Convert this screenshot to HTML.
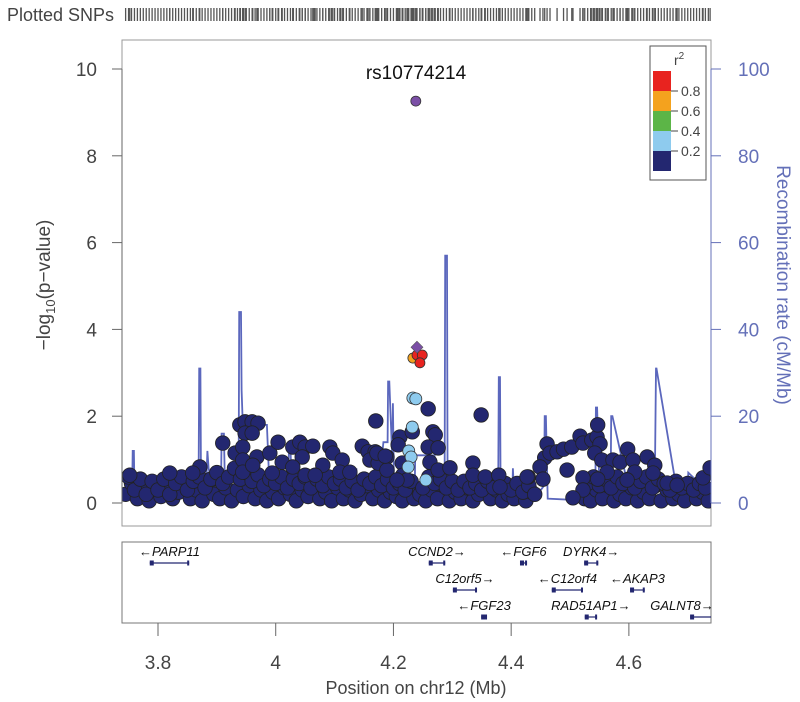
<!DOCTYPE html>
<html><head><meta charset="utf-8"><style>
html,body{margin:0;padding:0;background:#fff;}
svg{display:block;font-family:"Liberation Sans",Arial,sans-serif;}
</style></head><body>
<svg id="chart" width="800" height="702" viewBox="0 0 800 702" xmlns="http://www.w3.org/2000/svg">
<text x="7" y="21" font-size="18" fill="#444">Plotted SNPs</text>
<g id="snpticks"></g>
<rect x="122" y="40" width="589" height="486" fill="none" stroke="#999" stroke-width="1"/>
<g id="recomb"></g>
<g id="points"></g>
<g id="axes"></g>
<text x="416" y="79" font-size="19" text-anchor="middle" fill="#111">rs10774214</text>
<text transform="translate(50,285) rotate(-90)" font-size="19" text-anchor="middle" fill="#444">−log<tspan font-size="13" dy="5">10</tspan><tspan dy="-5">(p−value)</tspan></text>
<text transform="translate(777,285) rotate(90)" font-size="19" text-anchor="middle" fill="#6470b8">Recombination rate (cM/Mb)</text>
<g id="legend">
<rect x="650" y="46" width="56" height="134" fill="#fff" stroke="#555" stroke-width="1"/>
<text x="674" y="65" font-size="14" fill="#444">r<tspan font-size="10" dy="-6">2</tspan></text>
</g>
<rect x="122" y="542" width="589" height="81" fill="none" stroke="#777" stroke-width="1"/>
<g id="genes"></g>
<g id="xaxis"></g>
<text x="416" y="694" font-size="18" text-anchor="middle" fill="#444">Position on chr12 (Mb)</text>
</svg>
<script>
const NS="http://www.w3.org/2000/svg";
// ---- data ----
const navyPos=[3.745,3.755,3.765,3.775,3.785,3.795,3.805,3.815,3.825,3.835,3.845,3.855,3.865,3.875,3.885,3.895,3.905,3.915,3.925,3.935,3.945,3.955,3.965,3.975,3.985,3.995,4.005,4.015,4.025,4.035,4.045,4.055,4.065,4.075,4.085,4.095,4.105,4.115,4.125,4.135,4.145,4.155,4.165,4.175,4.185,4.195,4.205,4.215,4.225,4.235,4.245,4.255,4.265,4.275,4.285,4.295,4.305,4.315,4.325,4.335,4.345,4.355,4.365,4.375,4.385,4.395,4.405,4.415,4.425,4.435,4.525,4.535,4.545,4.555,4.565,4.575,4.585,4.595,4.605,4.615,4.625,4.635,4.645,4.655,4.665,4.675,4.685,4.695,4.705,4.715,4.725,4.735,
3.750,3.760,3.770,3.780,3.790,3.800,3.810,3.820,3.830,3.840,3.850,3.860,3.870,3.880,3.890,3.900,3.910,3.920,3.930,3.940,3.950,3.960,3.970,3.980,3.990,4.000,4.010,4.020,4.030,4.040,4.050,4.060,4.070,4.080,4.090,4.100,4.110,4.120,4.130,4.140,4.150,4.160,4.170,4.180,4.190,4.200,4.210,4.220,4.230,4.250,4.260,4.270,4.280,4.290,4.300,4.310,4.320,4.330,4.340,4.350,4.360,4.370,4.390,4.400,4.410,4.420,4.430,4.440,4.530,4.540,4.550,4.560,4.570,4.580,4.590,4.600,4.610,4.620,4.630,4.640,4.650,4.660,4.670,4.680,4.690,4.700,4.710,4.720,4.730,
3.752,3.820,3.871,3.859,3.910,3.931,3.939,3.948,3.960,3.970,3.948,3.960,3.944,3.944,3.944,3.968,3.961,3.990,4.004,4.011,3.994,4.029,4.041,4.050,4.063,4.045,4.029,4.050,4.080,4.092,4.097,4.113,4.067,4.109,4.126,4.147,4.157,4.169,4.170,4.160,4.174,4.189,4.189,4.211,4.208,4.215,4.216,4.223,4.206,4.172,4.186,
4.259,4.232,4.267,4.271,4.259,4.276,4.262,4.276,4.296,4.335,4.335,4.349,4.356,4.379,4.429,4.461,4.457,4.466,4.478,4.489,4.503,4.517,4.522,4.537,4.546,4.547,4.551,4.542,4.554,4.495,4.522,4.522,4.505,4.449,4.454,4.573,4.585,4.598,4.607,4.631,4.644,4.641,4.610,4.563,4.597,4.665,4.682,4.726,4.738,4.381,4.427,4.547];
const navyLogP=[0.2,0.45,0.1,0.3,0.05,0.4,0.15,0.35,0.1,0.25,0.45,0.1,0.3,0.05,0.4,0.2,0.1,0.35,0.05,0.3,0.15,0.4,0.1,0.3,0.05,0.25,0.1,0.35,0.2,0.05,0.3,0.15,0.4,0.1,0.25,0.05,0.35,0.1,0.3,0.05,0.2,0.4,0.1,0.3,0.05,0.25,0.15,0.05,0.3,0.1,0.2,0.05,0.3,0.1,0.4,0.05,0.25,0.1,0.35,0.05,0.2,0.4,0.1,0.3,0.05,0.2,0.1,0.35,0.05,0.25,0.1,0.05,0.3,0.1,0.4,0.05,0.2,0.1,0.35,0.05,0.25,0.1,0.4,0.05,0.3,0.1,0.2,0.05,0.35,0.1,0.25,0.05,
0.6,0.3,0.55,0.2,0.5,0.3,0.55,0.2,0.45,0.6,0.3,0.5,0.6,0.35,0.55,0.7,0.45,0.6,0.8,0.55,0.7,0.5,0.65,0.4,0.55,0.45,0.6,0.35,0.55,0.45,0.6,0.35,0.55,0.4,0.6,0.45,0.55,0.35,0.5,0.3,0.55,0.45,0.6,0.4,0.55,0.35,0.45,0.3,0.5,0.35,0.6,0.45,0.55,0.35,0.5,0.3,0.5,0.35,0.45,0.3,0.5,0.35,0.45,0.3,0.45,0.25,0.4,0.2,0.45,0.6,0.4,0.55,0.35,0.6,0.45,0.55,0.35,0.5,0.6,0.35,0.55,0.45,0.3,0.5,0.35,0.45,0.3,0.45,0.35,
0.64,0.69,0.83,0.69,1.38,1.15,1.80,1.87,1.87,1.84,1.61,1.61,1.29,0.99,0.71,1.06,0.87,1.15,1.40,0.94,0.69,1.29,1.40,1.29,1.31,1.06,0.83,0.64,0.87,1.29,1.15,0.99,0.64,0.71,0.71,1.31,1.18,1.18,1.89,0.99,0.92,1.06,0.76,1.52,1.34,0.92,0.64,0.53,0.53,1.15,1.08,
2.17,1.64,1.64,1.57,1.29,1.27,0.94,0.76,0.81,0.92,0.64,2.03,0.60,0.64,0.60,1.36,1.04,1.15,1.18,1.24,1.29,1.54,1.38,1.45,1.52,1.80,1.36,1.15,0.99,0.76,0.58,0.30,0.12,0.83,0.55,0.99,0.94,1.24,0.99,1.06,0.87,0.69,0.71,0.71,0.53,0.46,0.41,0.58,0.81,0.37,0.60,0.55];
const ldPos=[4.233,4.238,4.232,4.226,4.230,4.225,4.255,4.233,4.240,4.249,4.245];
const ldLogP=[2.42,2.40,1.75,1.20,1.06,0.83,0.53,3.34,3.41,3.41,3.23];
const ldR2=[0.3,0.3,0.3,0.3,0.3,0.3,0.3,0.7,0.9,0.9,0.9];
const leadPos=[4.238]; const leadLogP=[9.26];
const proxyPos=[4.240]; const proxyLogP=[3.59];
const recPos=[3.739,3.756,3.757,3.759,3.760,3.78,3.80,3.83,3.85,3.869,3.870,3.872,3.873,3.882,3.884,3.886,3.895,3.907,3.908,3.912,3.914,3.925,3.937,3.938,3.941,3.942,3.944,3.960,3.985,3.988,4.000,4.020,4.023,4.025,4.027,4.07,4.08,4.10,4.136,4.137,4.139,4.175,4.183,4.190,4.191,4.193,4.198,4.199,4.201,4.215,4.225,4.236,4.237,4.270,4.272,4.287,4.288,4.291,4.292,4.31,4.35,4.378,4.379,4.381,4.382,4.402,4.403,4.405,4.425,4.427,4.429,4.445,4.456,4.457,4.459,4.462,4.538,4.543,4.544,4.546,4.55,4.569,4.570,4.572,4.60,4.643,4.644,4.646,4.647,4.68,4.698,4.699,4.701,4.739];
const recRate=[2,2,12,12,2,3,2,3,4,5,31,31,5,5,12,8,3,3,16,16,2,3,3,44,44,26,18,18,18,8,6,3,14,14,3,3,1,1,1,8,2,3,14,14,28,28,10,23,4,3,1,1,11,11,3,3,57,57,3,3,3,3,29,29,3,2,8,2,2,7,2,2,4,20,20,1,0.5,0.5,22,22,3,3,20,20,3,3,4,31,31,4,2,2,7,2,2];
const geneNames=["PARP11","CCND2","FGF6","DYRK4","C12orf5","C12orf4","AKAP3","FGF23","RAD51AP1","GALNT8"];
const geneStart=[3.786,4.260,4.415,4.524,4.301,4.469,4.602,4.349,4.525,4.704];
const geneEnd=[3.853,4.288,4.427,4.548,4.342,4.522,4.627,4.359,4.546,4.745];
const geneStrand=[-1,1,-1,1,1,-1,-1,-1,1,1];
const geneRow=[0,0,0,0,1,1,1,2,2,2];
const xTicks=[3.8,4.0,4.2,4.4,4.6]; const xTickLabels=["3.8","4","4.2","4.4","4.6"];
const yTicks=[0,2,4,6,8,10]; const y2Ticks=[0,20,40,60,80,100];
const legendLevels=[0.8,0.6,0.4,0.2];
const legendColors=["#e8231f","#f4a21e","#5cb547","#8ecbee","#232770"];
// ---- scales ----
const X=v=>158+(v-3.8)*588.6;
const Y=v=>503-v*43.4;
const Y2=v=>503-v*4.34;
function el(t,a,p){const e=document.createElementNS(NS,t);for(const k in a)e.setAttribute(k,a[k]);p.appendChild(e);return e;}
function ldColor(r){return r>=0.8?legendColors[0]:r>=0.6?legendColors[1]:r>=0.4?legendColors[2]:r>=0.2?legendColors[3]:legendColors[4];}
const svg=document.getElementById('chart');
// clip
const defs=el('defs',{},svg);const cp=el('clipPath',{id:'clip'},defs);el('rect',{x:122,y:40,width:589,height:486},cp);
const cg=el('clipPath',{id:'clipg'},defs);el('rect',{x:122,y:542,width:589,height:81},cg);
// recombination
const rg=document.getElementById('recomb');rg.setAttribute('clip-path','url(#clip)');
const rl=el('polyline',{points:recPos.map((p,i)=>X(p).toFixed(1)+','+Y2(recRate[i]).toFixed(1)).join(' '),fill:'none',stroke:'#5b67bd','stroke-width':1.8},rg);


// points
const pg=document.getElementById('points');pg.setAttribute('clip-path','url(#clip)');
navyPos.forEach((p,i)=>{const c=el('circle',{cx:X(p),cy:Y(navyLogP[i]),r:7.3,fill:'#232770',stroke:'#222','stroke-width':0.8},pg);

});
ldPos.forEach((p,i)=>{const c=el('circle',{cx:X(p),cy:Y(ldLogP[i]),r:ldR2[i]>0.5?5:6,fill:ldColor(ldR2[i]),stroke:'#333','stroke-width':0.8},pg);

});
proxyPos.forEach((p,i)=>{const x=X(p),y=Y(proxyLogP[i]);const d=el('polygon',{points:`${x},${y-6} ${x+6},${y} ${x},${y+6} ${x-6},${y}`,fill:'#7b4fa6',stroke:'#555','stroke-width':0.6},pg);

});
leadPos.forEach((p,i)=>{const c=el('circle',{cx:X(p),cy:Y(leadLogP[i]),r:5,fill:'#7b4fa6',stroke:'#333','stroke-width':0.8},pg);

});
// snp ticks
const tg=document.getElementById('snpticks');
navyPos.concat(ldPos,leadPos).forEach(p=>{const x=X(p);if(x<122||x>711)return;const t=el('line',{x1:x,x2:x,y1:8,y2:21,stroke:'#555','stroke-width':1.3},tg);

});
// axes
const ag=document.getElementById('axes');
el('line',{x1:122,x2:122,y1:Y(10),y2:Y(0),stroke:'#666'},ag);
yTicks.forEach(v=>{el('line',{x1:112,x2:122,y1:Y(v),y2:Y(v),stroke:'#666'},ag);
const t=el('text',{x:97,y:Y(v)+7,'font-size':19,'text-anchor':'end',fill:'#444'},ag);t.textContent=v;

});
el('line',{x1:711,x2:711,y1:Y2(100),y2:Y2(0),stroke:'#6470b8'},ag);
y2Ticks.forEach(v=>{el('line',{x1:711,x2:721,y1:Y2(v),y2:Y2(v),stroke:'#6470b8'},ag);
const t=el('text',{x:738,y:Y2(v)+7,'font-size':19,'text-anchor':'start',fill:'#6470b8'},ag);t.textContent=v;

});
// legend
const lg=document.getElementById('legend');
legendColors.forEach((c,i)=>{const r=el('rect',{x:653,y:71+i*20,width:18,height:20,fill:c},lg);

});
legendLevels.forEach((v,i)=>{const y=91+i*20;el('line',{x1:671,x2:678,y1:y,y2:y,stroke:'#444'},lg);
const t=el('text',{x:681,y:y+5,'font-size':14,fill:'#444'},lg);t.textContent=v.toFixed(1);

});
// genes
const gg=document.getElementById('genes');gg.setAttribute('clip-path','url(#clipg)');
geneNames.forEach((n,i)=>{const x1=X(geneStart[i]),x2=X(geneEnd[i]);const by=563+geneRow[i]*27;
el('line',{x1:x1,x2:x2,y1:by,y2:by,stroke:'#232770','stroke-width':1.2},gg);
el('rect',{x:x1,y:by-2.5,width:Math.min(4,x2-x1),height:5,fill:'#232770'},gg);
el('rect',{x:x2-2,y:by-2.5,width:2,height:5,fill:'#232770'},gg);
let cx=(x1+x2)/2;const lbl=(geneStrand[i]<0?'←':'')+n+(geneStrand[i]>0?'→':'');
const w=lbl.length*8;if(cx+w/2>710)cx=710-w/2;
const t=el('text',{x:cx,y:by-7,'font-size':13,'font-style':'italic','text-anchor':'middle',fill:'#111'},gg);t.textContent=lbl;

});
// x axis
const xg=document.getElementById('xaxis');
xTicks.forEach((v,i)=>{el('line',{x1:X(v),x2:X(v),y1:623,y2:636,stroke:'#666'},xg);
const t=el('text',{x:X(v),y:669,'font-size':19,'text-anchor':'middle',fill:'#444'},xg);t.textContent=xTickLabels[i];

});
</script>
</body></html>
